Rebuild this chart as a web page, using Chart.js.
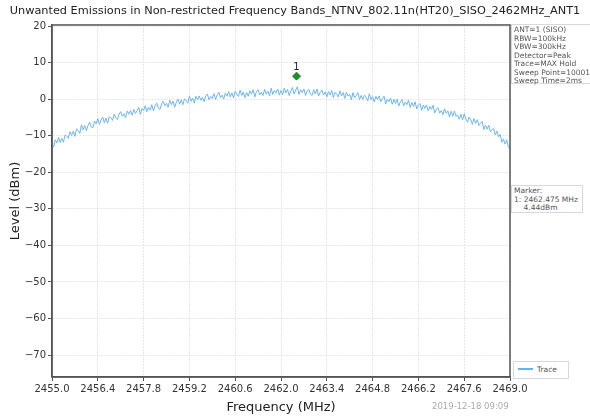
<!DOCTYPE html>
<html>
<head>
<meta charset="utf-8">
<script src="https://cdn.jsdelivr.net/npm/chart.js@4.4.1/dist/chart.umd.min.js"></script>
<style>
  body { margin: 0; background: #fff; font-family: "DejaVu Sans", sans-serif; }
  #wrap { position: relative; width: 590px; height: 419px; }
  #graph { position: absolute; left: 0; top: 0; }
  .box { position: absolute; border: 1px solid #d8d8d8; background: #fff;
         font-size: 7.5px; line-height: 8.5px; color: #555; padding: 1px 2px; white-space: pre; }
  #stamp { position: absolute; left: 432px; top: 401px; font-size: 8.5px; color: #aaa; }
</style>
</head>
<body>
<div id="wrap">
  <canvas id="graph" width="590" height="419"></canvas>
  <div class="box" style="left:511px; top:24px; width:80px; height:56px;">ANT=1 (SISO)
RBW=100kHz
VBW=300kHz
Detector=Peak
Trace=MAX Hold
Sweep Point=10001
Sweep Time=2ms</div>
  <div class="box" style="left:511px; top:185px; width:66px; height:24px;">Marker:
1: 2462.475 MHz
    4.44dBm</div>
  <div class="box" style="left:513px; top:361px; width:50px; height:14px; line-height:14px;"><span style="display:inline-block;width:15px;height:2px;background:#66b3f0;vertical-align:middle;margin:0 4px 2px 2px;"></span>Trace</div>
  <div id="stamp">2019-12-18 09:09</div>
</div>
<script>
// sweep 2455 - 2469 MHz, one reading every 0.05 MHz
var startFreq = 2455.0
var stepFreq = 0.05
var livelli = [
  -12.1, -13.1, -11.1, -12.0, -10.4, -11.9, -10.7, -11.8, -9.8, -10.1,
  -10.7, -8.9, -9.9, -8.8, -10.2, -8.1, -8.6, -9.4, -7.0, -8.4,
  -7.2, -8.6, -7.2, -6.3, -7.6, -7.8, -6.0, -6.7, -5.3, -6.9,
  -5.7, -4.9, -6.5, -5.2, -6.6, -4.8, -5.1, -5.8, -4.1, -5.1,
  -5.6, -4.1, -3.4, -4.7, -4.0, -5.1, -3.2, -4.1, -3.1, -4.4,
  -2.8, -3.9, -3.2, -2.2, -4.2, -2.6, -3.1, -1.8, -3.4, -2.2,
  -3.0, -1.5, -3.2, -1.8, -1.1, -2.4, -2.8, -1.3, -0.6, -1.8,
  -1.1, -2.2, -0.3, -1.5, -0.5, -2.2, -0.8, 0.0, -1.4, -0.2,
  -1.5, 0.1, -0.4, -1.1, 0.8, -0.6, 0.3, -1.1, 0.8, -0.2,
  0.9, -0.3, 0.5, -0.7, 0.9, 1.4, -0.2, 0.7, 0.2, 1.5,
  -0.1, 1.2, 1.9, 0.4, 1.1, 0.1, 1.7, 0.8, 2.1, 0.6,
  1.7, 0.3, 2.2, 1.4, 0.7, 2.5, 1.0, 2.0, 0.4, 1.8,
  0.8, 2.3, 1.4, 2.6, 0.6, 2.1, 2.6, 1.2, 1.9, 1.0,
  2.7, 1.4, 2.2, 0.9, 3.0, 1.3, 2.4, 1.7, 2.8, 1.1,
  2.4, 1.2, 3.0, 1.7, 2.7, 1.0, 2.2, 3.2, 1.4, 2.5,
  3.4, 1.3, 2.6, 1.8, 2.8, 1.0, 2.2, 2.7, 1.4, 1.0,
  2.6, 1.4, 2.8, 0.9, 1.9, 2.5, 1.1, 2.0, 0.6, 2.1,
  1.1, 2.4, 0.4, 1.9, 1.4, 0.6, 2.3, 0.9, 1.8, 0.2,
  1.9, 0.8, 1.4, -0.2, 1.8, 0.4, 1.0, 1.8, -0.1, 1.0,
  -0.1, 1.1, 0.6, -0.5, 1.5, -0.1, 0.7, -0.8, 0.8, -0.1,
  0.9, -0.7, 0.2, 0.8, -1.3, 0.0, -0.7, 0.3, -1.4, -0.1,
  -1.2, 0.0, -1.9, -0.7, -0.1, -1.8, -0.8, -1.5, -0.3, -2.3,
  -0.9, -2.0, -0.7, -2.7, -1.6, -1.2, -3.1, -1.6, -2.5, -1.6,
  -3.2, -2.0, -2.8, -1.7, -3.8, -2.7, -2.3, -3.8, -3.1, -4.3,
  -2.6, -3.9, -3.2, -4.9, -3.3, -4.7, -3.2, -4.7, -4.3, -5.5,
  -4.1, -5.7, -4.0, -5.4, -6.3, -4.9, -5.6, -6.9, -5.3, -6.6,
  -5.6, -7.2, -6.6, -6.1, -8.3, -7.1, -8.2, -7.1, -8.9, -8.3,
  -8.1, -9.8, -8.7, -10.3, -9.6, -11.8, -10.9, -12.3, -11.1, -13.1,
  -13.6
]
var markerFreq = 2462.475
var markerLivello = 6.3
var xTicks = [2455.0, 2456.4, 2457.8, 2459.2, 2460.6, 2462.0, 2463.4, 2464.8, 2466.2, 2467.6, 2469.0]
var yTicks = [-70, -60, -50, -40, -30, -20, -10, 0, 10, 20]

var traccia = livelli.map(function (v, i) {
    return { x: startFreq + i * stepFreq, y: v }
})

// frame + marker label
var cornice = {
    id: 'cornice',
    afterDatasetsDraw(chart) {
        var ctx = chart.ctx
        var a = chart.chartArea
        ctx.save()
        ctx.strokeStyle = '#555'
        ctx.lineWidth = 1.5
        ctx.strokeRect(a.left, a.top, a.right - a.left, a.bottom - a.top)
        var px = chart.scales.x.getPixelForValue(markerFreq)
        var py = chart.scales.y.getPixelForValue(markerLivello)
        ctx.fillStyle = '#222'
        ctx.font = '10px "DejaVu Sans"'
        ctx.textAlign = 'center'
        ctx.textBaseline = 'bottom'
        ctx.fillText('1', px, py - 4)
        ctx.restore()
    }
}

var myChart = new Chart(document.getElementById('graph'), {
    type: 'line',
    data: {
        datasets: [{
            label: 'Trace',
            data: traccia,
            borderColor: '#6db6f0',
            borderWidth: 1,
            pointRadius: 0,
            tension: 0
        }, {
            type: 'scatter',
            label: 'Marker',
            data: [{ x: markerFreq, y: markerLivello }],
            pointStyle: 'rectRot',
            pointRadius: 4,
            backgroundColor: '#1e8c2a',
            borderColor: '#1e8c2a'
        }]
    },
    plugins: [cornice],
    options: {
        responsive: false,
        animation: false,
        layout: { padding: 0 },
        plugins: {
            legend: { display: false },
            tooltip: { enabled: false },
            title: {
                display: true,
                text: 'Unwanted Emissions in Non-restricted Frequency Bands_NTNV_802.11n(HT20)_SISO_2462MHz_ANT1',
                color: '#222',
                font: { family: 'DejaVu Sans', size: 11.3, weight: 'normal' },
                padding: { top: 4, bottom: 7.4 }
            }
        },
        scales: {
            x: {
                type: 'linear',
                min: 2455,
                max: 2469,
                afterBuildTicks: function (s) { s.ticks = xTicks.map(function (v) { return { value: v } }) },
                afterFit: function (s) { s.height = 42; s.paddingLeft = 0; s.paddingRight = 0 },
                ticks: {
                    color: '#333',
                    padding: 2,
                    maxRotation: 0,
                    autoSkip: false,
                    font: { family: 'DejaVu Sans', size: 10 },
                    callback: function (v) { return v.toFixed(1) }
                },
                grid: { color: '#e6e6e6', tickColor: '#555', tickLength: 4 },
                border: { color: '#555', width: 1.5, dash: [2, 1] },
                title: {
                    display: true,
                    text: 'Frequency (MHz)',
                    color: '#222',
                    font: { family: 'DejaVu Sans', size: 13 },
                    padding: { top: 0, bottom: 4 }
                }
            },
            y: {
                type: 'linear',
                min: -76,
                max: 20.3,
                afterBuildTicks: function (s) { s.ticks = yTicks.map(function (v) { return { value: v } }) },
                afterFit: function (s) { s.width = 52; s.paddingTop = 0; s.paddingBottom = 0 },
                ticks: {
                    color: '#333',
                    padding: 2,
                    autoSkip: false,
                    font: { family: 'DejaVu Sans', size: 10 },
                    callback: function (v) { return String(v).replace('-', '\u2212') }
                },
                grid: { color: '#e6e6e6', tickColor: '#555', tickLength: 4 },
                border: { color: '#555', width: 1.5, dash: [2, 1] },
                title: {
                    display: true,
                    text: 'Level (dBm)',
                    color: '#222',
                    font: { family: 'DejaVu Sans', size: 13 },
                    padding: { top: 8, bottom: 0 }
                }
            },
            destra: {
                type: 'linear',
                position: 'right',
                display: true,
                ticks: { display: false },
                grid: { display: false, drawTicks: false },
                border: { display: false },
                afterFit: function (s) { s.width = 80; s.paddingTop = 0; s.paddingBottom = 0 }
            }
        }
    }
})
</script>
</body>
</html>
